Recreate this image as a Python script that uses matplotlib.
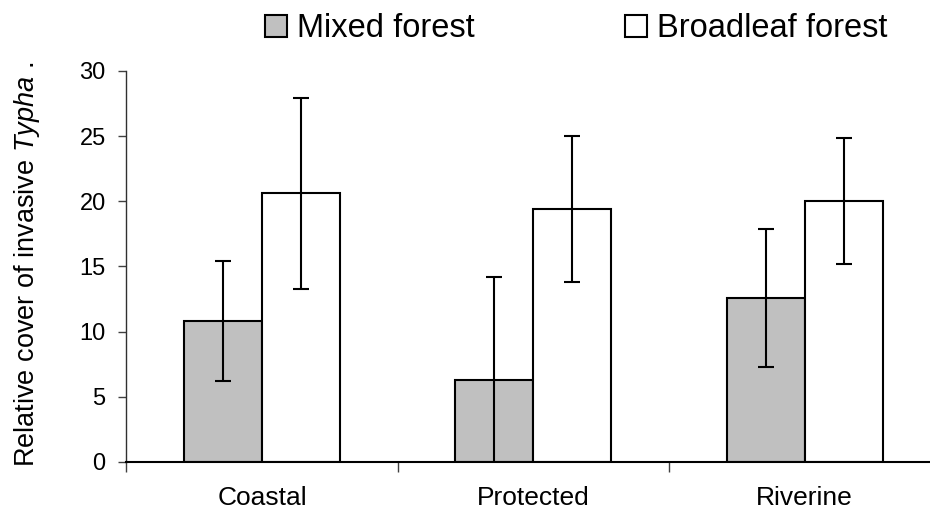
import numpy as np
import matplotlib
matplotlib.use('Agg')
import matplotlib.pyplot as plt
from matplotlib.patches import Patch

plt.rcParams['font.family'] = ['Liberation Sans', 'DejaVu Sans']
plt.rcParams['mathtext.fontset'] = 'custom'
plt.rcParams['mathtext.rm'] = 'Liberation Sans'
plt.rcParams['mathtext.it'] = 'Liberation Sans:italic'

# mean relative cover and standard error per habitat
habitats = ['Coastal', 'Protected', 'Riverine']
mixed_mean = [10.8, 6.3, 12.6]
mixed_err = [4.6, 7.9, 5.3]
broad_mean = [20.6, 19.4, 20.0]
broad_err = [7.3, 5.6, 4.85]

fig = plt.figure(figsize=(9.3, 5.16), dpi=100, facecolor='white')
ax = fig.add_axes([0.136, 0.1047, 0.875, 0.758])

x = np.arange(len(habitats))
w = 0.2875
ax.bar(x - w/2, mixed_mean, w, color='#c0c0c0', edgecolor='black', linewidth=1.5, zorder=2)
ax.bar(x + w/2, broad_mean, w, color='white', edgecolor='black', linewidth=1.5, zorder=2)
ax.errorbar(x - w/2, mixed_mean, yerr=mixed_err, fmt='none', ecolor='black',
            elinewidth=1.5, capsize=5.5, capthick=1.5, zorder=3)
ax.errorbar(x + w/2, broad_mean, yerr=broad_err, fmt='none', ecolor='black',
            elinewidth=1.5, capsize=5.5, capthick=1.5, zorder=3)

ax.set_xlim(-0.5, 2.5)
ax.set_ylim(0, 30)
ax.set_yticks(np.arange(0, 31, 5))
ax.tick_params(axis='y', direction='out', length=6, width=1, color='#404040',
               labelsize=17, pad=9)

# category boundaries get the ticks, names sit in between
ax.set_xticks([-0.5, 0.5, 1.5, 2.5])
ax.set_xticklabels([])
ax.set_xticks(x, minor=True)
ax.set_xticklabels(habitats, minor=True)
ax.tick_params(axis='x', which='major', direction='out', length=7, width=1, color='#404040')
ax.tick_params(axis='x', which='minor', length=0, labelsize=19, pad=17)

for s in ['top', 'right']:
    ax.spines[s].set_visible(False)
ax.spines['left'].set_color('#303030')
ax.spines['left'].set_linewidth(1.0)
ax.spines['bottom'].set_linewidth(1.5)

ax.set_ylabel(r'Relative cover of invasive $\mathit{Typha}$ .', fontsize=19.5)
ax.yaxis.set_label_coords(-0.104, 0.506)

handles = [Patch(facecolor='#c0c0c0', edgecolor='black', linewidth=1.5),
           Patch(facecolor='white', edgecolor='black', linewidth=1.5)]
fig.legend(handles, ['Mixed forest', 'Broadleaf forest'], loc='upper left',
           bbox_to_anchor=(0.276, 0.99), ncol=2, frameon=False, fontsize=23.5,
           handlelength=0.68, handleheight=0.68, handletextpad=0.3,
           columnspacing=4.6, borderpad=0.25, borderaxespad=0)

fig.savefig('out.png', dpi=100)
